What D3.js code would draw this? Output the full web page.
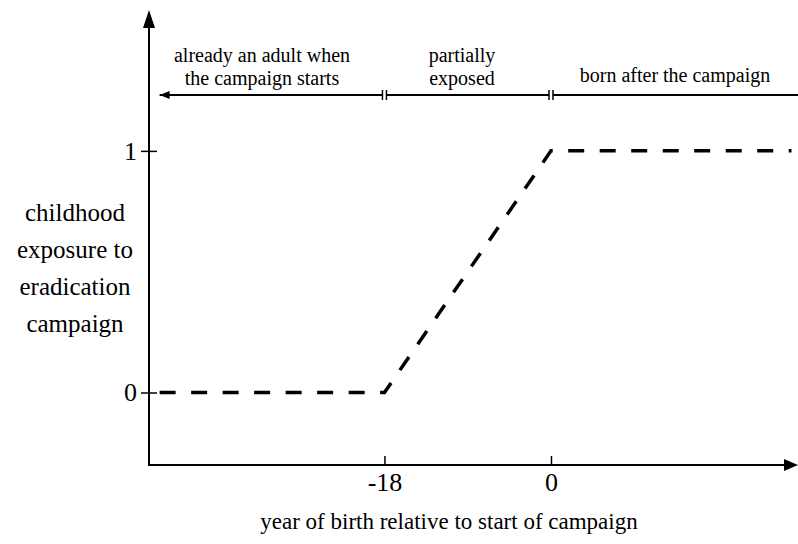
<!DOCTYPE html>
<html>
<head>
<meta charset="utf-8">
<script src="https://cdn.jsdelivr.net/npm/d3@7"></script>
<style>
  body { margin: 0; background: #fff; }
</style>
</head>
<body>
<script>
// exposure profile: year of birth relative to campaign start -> childhood exposure
const birthYears = [-42.3, -18, 0, 26];
const exposure = [0, 0, 1, 1];

// x ticks / y ticks
const xTicks = [-18, 0];
const yTicks = [0, 1];

// bracket segments above the plot
const groupBounds = [-42.3, -18, 0, 27];
const groupLabels = [
  ['already an adult when', 'the campaign starts'],
  ['partially', 'exposed'],
  ['born after the campaign']
];

const yLabelLines = ['childhood', 'exposure to', 'eradication', 'campaign'];
const xLabel = 'year of birth relative to start of campaign';

const W = 798, H = 544;
const svg = d3.select('body').append('svg')
  .attr('width', W).attr('height', H)
  .style('display', 'block')
  .style('font-family', 'Times New Roman');

// scales set so the axes sit where the picture has them
const x = d3.scaleLinear().domain([-43.45, 26.7]).range([149, 798]);
const y = d3.scaleLinear().domain([-0.3, 1.583]).range([465, 10]);

const x0 = x.range()[0], y0 = y.range()[0];

// axis lines
svg.append('line')
  .attr('x1', x0).attr('x2', W - 12)
  .attr('y1', y0).attr('y2', y0)
  .attr('stroke', '#000').attr('stroke-width', 2);
svg.append('line')
  .attr('x1', x0).attr('x2', x0)
  .attr('y1', y0 + 1).attr('y2', 26)
  .attr('stroke', '#000').attr('stroke-width', 2);

// arrow heads
svg.append('path')
  .attr('d', `M${W},${y0} L${W - 14},${y0 - 6} L${W - 14},${y0 + 6} Z`)
  .attr('fill', '#000');
svg.append('path')
  .attr('d', `M${x0},${y.range()[1]} L${x0 - 6},${y.range()[1] + 18} L${x0 + 6},${y.range()[1] + 18} Z`)
  .attr('fill', '#000');

// x axis ticks (upward) with labels
const xAxis = d3.axisBottom(x)
  .tickValues(xTicks)
  .tickFormat(d => d < 0 ? '-' + Math.abs(d) : String(d))
  .tickSizeInner(-9)
  .tickSizeOuter(0)
  .tickPadding(8);

const gx = svg.append('g')
  .attr('transform', 'translate(0,' + y0 + ')')
  .call(xAxis)
  .attr('font-family', null)
  .attr('font-size', 26);
gx.select('.domain').remove();
gx.selectAll('.tick line').attr('stroke-width', 1.5);
gx.selectAll('.tick text').attr('fill', '#000');

// y axis ticks (crossing the axis)
const yAxis = d3.axisLeft(y)
  .tickValues(yTicks)
  .tickFormat(d3.format('d'))
  .tickSizeInner(8)
  .tickSizeOuter(0)
  .tickPadding(4);

const gy = svg.append('g')
  .attr('transform', 'translate(' + x0 + ',0)')
  .call(yAxis)
  .attr('font-family', null)
  .attr('font-size', 26);
gy.select('.domain').remove();
gy.selectAll('.tick line').attr('x1', 8).attr('stroke-width', 1.5);
gy.selectAll('.tick text').attr('fill', '#000');

// dashed exposure line
const pts = birthYears.map((b, i) => [b, exposure[i]]);
svg.append('path')
  .datum(pts)
  .attr('fill', 'none')
  .attr('stroke', '#000')
  .attr('stroke-width', 3.5)
  .attr('stroke-dasharray', '16,15.5')
  .attr('d', d3.line().x(d => x(d[0])).y(d => y(d[1])));

// bracket line on top
const by = 95;
const gb = svg.append('g');
groupBounds.slice(0, -1).forEach((b, i) => {
  const xa = x(b) + (i === 0 ? 0 : 2);
  const xb = x(groupBounds[i + 1]) - (i === groupBounds.length - 2 ? 0 : 2);
  gb.append('line')
    .attr('x1', xa).attr('x2', xb)
    .attr('y1', by).attr('y2', by)
    .attr('stroke', '#000').attr('stroke-width', 2);
});
// double ticks at the group limits
groupBounds.slice(1, -1).forEach(b => {
  [-2, 2].forEach(o => {
    gb.append('line')
      .attr('x1', x(b) + o).attr('x2', x(b) + o)
      .attr('y1', by - 5).attr('y2', by + 5)
      .attr('stroke', '#000').attr('stroke-width', 1.5);
  });
});
// left arrow of the bracket
gb.append('path')
  .attr('d', `M${x(groupBounds[0])},${by} L${x(groupBounds[0]) + 10},${by - 4} L${x(groupBounds[0]) + 10},${by + 4} Z`)
  .attr('fill', '#000');

// group captions
const labelX = [262, 462, 675];
groupLabels.forEach((lines, i) => {
  const base = lines.length === 2 ? 62 : 82;
  lines.forEach((s, j) => {
    svg.append('text')
      .attr('x', labelX[i])
      .attr('y', base + j * 23)
      .attr('text-anchor', 'middle')
      .attr('font-size', 20)
      .attr('fill', '#000')
      .text(s);
  });
});

// y axis title
yLabelLines.forEach((s, j) => {
  svg.append('text')
    .attr('x', 75)
    .attr('y', 221 + j * 37)
    .attr('text-anchor', 'middle')
    .attr('font-size', 25)
    .attr('fill', '#000')
    .text(s);
});

// x axis title
svg.append('text')
  .attr('x', 449)
  .attr('y', 529)
  .attr('text-anchor', 'middle')
  .attr('font-size', 23)
  .attr('fill', '#000')
  .text(xLabel);
</script>
</body>
</html>
